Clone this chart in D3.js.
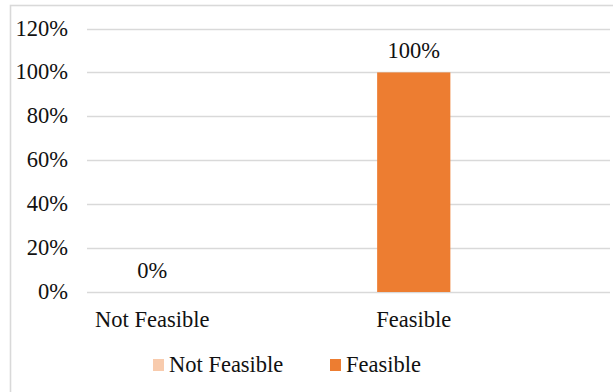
<!DOCTYPE html>
<html>
<head>
<meta charset="utf-8">
<script src="https://cdn.jsdelivr.net/npm/d3@7"></script>
<style>
  body { margin: 0; background: #fff; }
  svg text { font-family: 'Liberation Serif', 'Times New Roman', Times, serif; font-size: 22.5px; fill: #111; }
</style>
</head>
<body>
<svg id="chart" width="613" height="392"></svg>
<script>

var categories = ["Not Feasible", "Feasible"];
var values = [0, 1];
var colors = ["#F8CBAD", "#ED7D31"];
var yTicks = [0, 0.2, 0.4, 0.6, 0.8, 1.0, 1.2];

var svg = d3.select("#chart");

// chart frame (right/bottom edges fall outside the picture)
svg.append("rect")
    .attr("x", 10.5).attr("y", 5.5)
    .attr("width", 640).attr("height", 420)
    .attr("fill", "none")
    .attr("stroke", "#d9d9d9")
    .attr("stroke-width", 1.6);

var x = d3.scaleBand()
    .domain(categories)
    .range([21.5, 544.5])
    .paddingInner(0.72)
    .paddingOuter(0.36);

var y = d3.scaleLinear()
    .domain([0, 1.2])
    .range([292, 28.5]);

var fmt = d3.format(".0%");

// gridlines
svg.append("g")
    .selectAll("line")
    .data(yTicks)
    .enter().append("line")
    .attr("x1", 87).attr("x2", 610)
    .attr("y1", function(d) { return Math.round(y(d)) + 0.5; })
    .attr("y2", function(d) { return Math.round(y(d)) + 0.5; })
    .attr("stroke", "#d9d9d9")
    .attr("stroke-width", 1.3);

// y tick labels
svg.append("g")
    .selectAll("text")
    .data(yTicks)
    .enter().append("text")
    .attr("x", 68)
    .attr("y", function(d) { return y(d) + 7; })
    .attr("text-anchor", "end")
    .text(fmt);

// bars
svg.append("g")
    .selectAll("rect")
    .data(values)
    .enter().append("rect")
    .attr("x", function(d, i) { return x(categories[i]); })
    .attr("width", x.bandwidth())
    .attr("y", function(d) { return y(d); })
    .attr("height", function(d) { return y(0) - y(d); })
    .attr("fill", function(d, i) { return colors[i]; });

// value labels
svg.append("g")
    .selectAll("text")
    .data(values)
    .enter().append("text")
    .attr("x", function(d, i) { return x(categories[i]) + x.bandwidth() / 2; })
    .attr("y", function(d) { return y(d) - 14.5; })
    .attr("text-anchor", "middle")
    .text(fmt);

// category labels
svg.append("g")
    .selectAll("text")
    .data(categories)
    .enter().append("text")
    .attr("x", function(d) { return x(d) + x.bandwidth() / 2; })
    .attr("y", 327)
    .attr("text-anchor", "middle")
    .text(function(d) { return d; });

// legend
var legendX = [153, 330];
var legend = svg.append("g")
    .selectAll("g")
    .data(categories)
    .enter().append("g")
    .attr("transform", function(d, i) { return "translate(" + legendX[i] + ",359)"; });

legend.append("rect")
    .attr("width", 11).attr("height", 12)
    .attr("fill", function(d, i) { return colors[i]; });

legend.append("text")
    .attr("x", 16)
    .attr("y", 13)
    .text(function(d) { return d; });

</script>
</body>
</html>
